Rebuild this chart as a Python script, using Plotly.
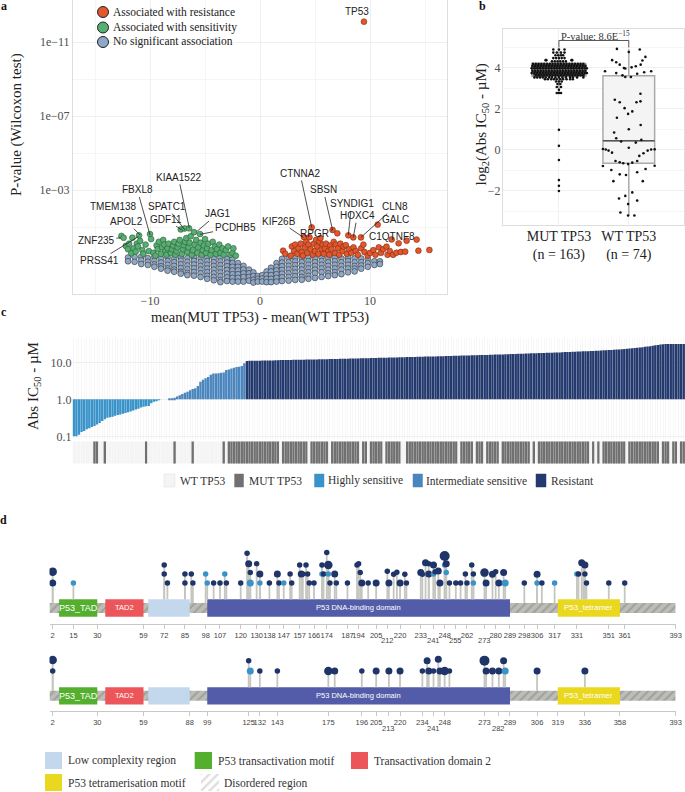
import plotly.graph_objects as go

W, H = 685, 792
SERIF = "Liberation Serif"
SANS = "Liberation Sans"
TICK = "#4d4d4d"

# ---------- panel a data ----------
green_x = [-12.6,-12.4,-12.2,-12.0,-11.9,-11.7,-11.6,-11.5,-11.3,-11.2,-11.1,-11.0,-10.9,-10.7,-10.6,-10.4,-10.1,-10.0,-9.9,-9.7,-9.5,-9.4,-9.3,-9.2,-9.0,-8.9,-8.8,-8.7,-8.6,-8.5,-8.4,-8.3,-8.1,-8.0,-7.9,-7.8,-7.7,-7.6,-7.5,-7.4,-7.3,-7.2,-7.1,-7.0,-6.9,-6.85,-6.8,-6.7,-6.6,-6.5,-6.45,-6.4,-6.3,-6.2,-6.1,-6.0,-5.95,-5.8,-5.7,-5.6,-5.45,-5.4,-5.3,-5.2,-5.1,-5.0,-4.9,-4.8,-4.7,-4.5,-4.4,-4.3,-4.1,-4.0,-3.9,-3.7,-3.6,-3.4,-3.3,-3.1,-2.9,-2.7,-2.5,-2.42,-2.2]
green_y = [.52,.42,-.02,-.2,.1,-.42,.42,-.15,-.33,.1,-.05,.55,.25,-.25,-.45,.05,-.3,.62,.35,-.4,-.55,.0,-.2,.2,-.45,-.1,.3,.05,-.3,-.5,-.15,.1,-.4,-.2,.0,.2,-.5,-.3,-.1,.1,.3,.87,-.45,-.2,.02,.92,.2,.4,-.35,-.1,.93,.15,.5,-.5,-.25,.72,.05,.3,-.4,-.1,.62,.15,-.5,-.25,.0,.35,-.4,-.15,.1,-.5,-.25,.2,-.05,-.45,-.2,.05,-.4,-.15,-.5,-.25,-.05,-.5,-.4,-.15,-.55]
orange_x = [9.45,2.1,2.3,2.8,2.9,3.1,3.2,3.4,3.5,3.7,3.8,3.9,4.0,4.1,4.2,4.3,4.4,4.5,4.6,4.7,4.8,4.9,5.0,5.1,5.2,5.3,5.4,5.5,5.6,5.7,5.8,5.9,6.0,6.2,6.3,6.4,6.5,6.6,6.7,6.8,6.9,7.03,7.1,7.2,7.3,7.5,7.6,7.8,7.9,8.03,8.1,8.3,8.48,8.5,8.7,8.9,9.18,9.2,9.4,9.5,9.8,10.0,10.3,10.5,10.7,10.8,11.0,11.2,11.5,11.6,11.8,11.97,12.1,12.4,12.6,12.8,13.2,13.33,14.24,14.4,15.4]
orange_y = [12.1,-.28,-.45,-.55,-.05,-.3,.05,-.45,-.15,.1,-.35,-.55,.45,-.1,.2,-.4,.05,.45,-.2,.98,-.5,.1,-.3,.3,-.05,-.45,.2,.4,-.2,.05,-.45,-.15,.1,-.3,-.5,.0,-.2,.84,.2,-.4,.05,.66,-.15,-.5,.1,-.3,-.05,.02,-.45,.55,-.2,-.4,.44,-.1,-.3,-.5,.44,-.15,.05,-.35,-.55,-.4,-.25,-.5,1.13,-.1,-.4,-.2,-.06,-.5,-.3,.33,-.5,-.39,.12,-.35,-.33,.26,.32,-.28,-.24]
blue_columns = [
 (-12.0,[-.65,-.85]),(-11.4,[-.62,-.88]),(-10.8,[-.6,-.8,-1.0]),(-10.2,[-.68,-.88,-1.05]),
 (-9.6,[-.62,-.82,-1.02,-1.15]),(-9.0,[-.7,-.92,-1.12,-1.25]),(-8.4,[-.64,-.84,-1.04,-1.24,-1.36]),
 (-7.8,[-.7,-.9,-1.1,-1.3,-1.42]),(-7.2,[-.62,-.82,-1.02,-1.22,-1.42,-1.52]),(-6.6,[-.68,-.88,-1.08,-1.28,-1.48,-1.6]),
 (-6.0,[-.63,-.83,-1.03,-1.23,-1.43,-1.63]),(-5.4,[-.7,-.9,-1.1,-1.3,-1.5,-1.7]),(-4.8,[-.64,-.84,-1.04,-1.24,-1.44,-1.64,-1.8]),
 (-4.2,[-.7,-.9,-1.1,-1.3,-1.5,-1.7,-1.88]),(-3.6,[-.66,-.86,-1.06,-1.26,-1.46,-1.66,-1.86,-1.98]),(-3.0,[-.72,-.92,-1.12,-1.32,-1.52,-1.72,-1.92]),
 (-2.5,[-.72,-.95,-1.15,-1.35,-1.55,-1.75,-1.95]),(-2.0,[-.95,-1.15,-1.35,-1.55,-1.75,-1.95]),(-1.5,[-1.1,-1.3,-1.5,-1.7,-1.95]),
 (-1.0,[-1.3,-1.5,-1.7,-1.9]),(-.6,[-1.45,-1.65,-1.85,-2.0]),(-.2,[-1.65,-1.8,-1.95]),(.2,[-1.6,-1.78,-1.95]),
 (.6,[-1.4,-1.6,-1.8,-1.98]),(1.0,[-1.2,-1.4,-1.6,-1.8,-1.98]),(1.5,[-.95,-1.15,-1.35,-1.55,-1.75,-1.95]),
 (2.0,[-.72,-.92,-1.12,-1.32,-1.52,-1.72,-1.92]),(2.6,[-.7,-.9,-1.1,-1.3,-1.5,-1.7,-1.9]),(3.2,[-.66,-.86,-1.06,-1.26,-1.46,-1.66,-1.86]),
 (3.8,[-.7,-.9,-1.1,-1.3,-1.5,-1.7,-1.85]),(4.4,[-.64,-.84,-1.04,-1.24,-1.44,-1.64,-1.8]),(5.0,[-.7,-.9,-1.1,-1.3,-1.5,-1.75]),
 (5.6,[-.64,-.84,-1.04,-1.24,-1.44,-1.7]),(6.2,[-.7,-.9,-1.1,-1.3,-1.5,-1.65]),(6.8,[-.64,-.84,-1.04,-1.24,-1.44,-1.6]),
 (7.4,[-.7,-.9,-1.1,-1.3,-1.55]),(8.0,[-.64,-.84,-1.04,-1.24,-1.45]),(8.6,[-.7,-.9,-1.1,-1.25,-1.4]),
 (9.2,[-.7,-.9,-1.08,-1.25]),(9.8,[-.75,-.95,-1.15]),(10.4,[-.85,-1.05]),(10.9,[-.85,-1.0]),
]
gene_labels = [
 ("KIAA1522",-6.42,.93,-11,-51,True),("FBXL8",-10,.57,-12.7,-45,True),("TMEM138",-11,.55,-26,-29.3,False),
 ("SPATC1",-6.82,.84,-18.3,-23.3,True),("GDF11",-7.12,.84,-16,-10.7,True),("JAG1",-5.76,.75,20.7,-17.7,True),
 ("PCDHB5",-5.45,.6,35,-7.3,True),("APOL2",-10.9,.57,-13.3,-13.3,True),("ZNF235",-12.7,.42,-24,3,True),
 ("PRSS41",-11.06,.48,-39.3,24,True),("KIF26B",3.94,.44,-24,-16.3,True),("CTNNA2",4.7,.98,-11.7,-54,True),
 ("RPGR",6.6,.84,-17.7,3.7,True),("SBSN",6.6,.84,-9.3,-40,True),("SYNDIG1",8.03,.57,3.3,-31,True),
 ("HOXC4",8.48,.44,4,-21.7,True),("CLN8",9.18,.44,34,-30.7,True),("GALC",10.7,1.13,17.3,-5,False),
 ("C1QTNF8",11.97,.33,0,-2.7,False),("TP53",9.45,12.1,-6.7,-9.7,False),
]
legend_a = [("Associated with resistance","#E2572B"),("Associated with sensitivity","#57AE71"),("No significant association","#8FA8C8")]

# ---------- panel b data ----------
wt_x = [.83,1,1.157,1.238,1.195,1.17,.762,.82,.87,.93,.95,1.04,1.1,.66,.82,.91,.95,1.03,1.12,1.22,1.32,1.167,.8,.87,1.167,1.11,.94,1.05,.99,.83,1.17,1,.79,.82,.89,1.18,1.1,1,.63,.67,.71,.76,1.37,1.32,1.27,1.21,1.15,.81,.87,.92,.99,1.05,1.12,.63,1.37,.75,1.24,.87,.96,1.12,.78,1.2,1.05,.95,.86,1.12,.99,.88,.99,1.08]
wt_y = [4.93,4.78,4.9,4.54,4.36,4.16,4.38,4.28,4.16,4.0,3.97,4.03,4.08,3.84,3.75,3.64,3.56,3.56,3.72,3.79,3.84,2.74,2.45,2.33,2.37,2.33,2.04,1.88,1.76,1.57,1.22,1.01,.85,.57,.41,.49,.36,.11,.05,.02,-.03,-.13,.03,.02,-.03,-.16,-.29,-.54,-.6,-.65,-.69,-.62,-.54,-.78,-.77,-.98,-.93,-1.19,-1.22,-1.09,-1.52,-1.52,-2.07,-2.24,-2.37,-2.47,-2.64,-3.05,-3.2,-3.2]
mut_rows = [
 (4.2,[-.37,-.33,-.29,-.25,-.21,-.17,-.13,-.09,-.05,-.01,.03,.07,.11,.15,.19,.23,.27,.31,.35]),
 (4.1,[-.38,-.34,-.3,-.26,-.22,-.18,-.14,-.1,-.06,-.02,.02,.06,.1,.14,.18,.22,.26,.3,.34,.38]),
 (3.98,[-.39,-.35,-.31,-.27,-.23,-.19,-.15,-.11,-.07,-.03,.01,.05,.09,.13,.17,.21,.25,.29,.33,.37,.4]),
 (3.86,[-.38,-.34,-.3,-.26,-.22,-.18,-.14,-.1,-.06,-.02,.02,.06,.1,.14,.18,.22,.26,.3,.34,.38]),
 (3.75,[-.39,-.35,-.31,-.27,-.23,-.19,-.15,-.11,-.07,-.03,.01,.05,.09,.13,.17,.21,.25,.29,.33,.37,.4]),
 (3.64,[-.33,-.29,-.25,-.21,-.17,-.13,-.09,-.05,-.01,.03,.07,.11,.15,.19,.23,.27,.31,.35]),
 (3.54,[-.35,-.31,-.27,-.23,-.19,-.14,-.1,-.05,.0,.05,.1,.16,.2,.26,.35]),
 (3.45,[-.2,-.16,-.11,-.07,-.03,.02,.06,.11,.16,.2]),
 (3.34,[-.04,.0,.04]),(3.22,[-.02,.02]),(3.07,[-.03,.03]),(2.94,[.0]),(2.78,[-.03,.0,.03]),
 (.98,[.0]),(.2,[.0]),(-.49,[.0]),(-1.47,[.0]),(-1.75,[.0]),(-2.0,[.0]),
 (4.32,[-.1,-.06,-.02,.02,.06,.1]),(4.38,[-.18,-.19,.18,.19]),(4.48,[-.08,-.04,.0,.04,.08]),
 (4.62,[-.05,-.01,.03,.06]),(4.75,[-.08,-.03,.03,.08]),(4.9,[-.08,.0,.08]),
]
box_mut = dict(q1=3.6, median=3.9, q3=4.22, lowerfence=2.78, upperfence=4.93)
box_wt = dict(q1=-.65, median=.45, q3=3.62, lowerfence=-3.2, upperfence=4.93)

# ---------- panel c data ----------
ic50_sensitive = [.10,.10,.11,.13,.14,.155,.165,.18,.19,.21,.23,.26,.29,.32,.33,.34,.36,.38,.39,.41,.43,.45,.47,.50,.53,.56,.60,.63,.65,.66,.78,.86,.92,.95]
ic50_intermediate = [1.0,1.0,1.0,1.02,1.03,1.1,1.2,1.3,1.4,1.5,1.6,1.75,1.9,2.0,2.3,3.0,3.4,3.7,4.0,4.6,5.0,5.0,5.05,5.2,5.3,6.2,6.4,6.8,7.2,7.5,7.6,8.0,9.5]
ic50_resistant = [10.9,11.0,11.0,11.1,11.1,11.1,11.2,11.2,11.3,11.3,11.3,11.4,11.4,11.5,11.5,11.5,11.6,11.6,11.7,11.7,11.7,11.8,11.8,11.9,11.9,11.9,12.0,12.0,12.1,12.1,
 12.2,12.2,12.3,12.3,12.4,12.4,12.5,12.5,12.6,12.6,12.7,12.7,12.8,12.8,12.9,12.9,13.0,13.0,13.1,13.1,13.2,13.3,13.3,13.4,13.4,13.5,13.5,13.6,13.6,13.7,
 13.8,13.8,13.9,13.9,14.0,14.0,14.1,14.2,14.2,14.3,14.3,14.4,14.5,14.5,14.6,14.7,14.7,14.8,14.9,14.9,15.0,15.1,15.1,15.2,15.3,15.3,15.4,15.5,15.6,15.6,
 15.7,15.8,15.9,15.9,16.0,16.1,16.2,16.3,16.4,16.4,16.5,16.6,16.7,16.8,16.9,17.0,17.1,17.2,17.3,17.4,17.5,17.6,17.7,17.8,17.9,18.0,18.1,18.2,18.3,18.4,
 18.5,18.6,18.7,18.9,19.0,19.1,19.2,19.4,19.5,19.6,19.8,19.9,20.0,20.2,20.4,20.5,20.7,20.9,21.1,21.3,21.5,21.7,21.9,22.2,22.4,22.7,23.0,23.3,23.6,24.0,
 24.4,24.8,25.2,25.7,26.2,26.8,27.3,28.0,28.8,29.6,30.5,31.0,31.2,31.3,31.4,31.5,31.5,31.5,31.5,31.5]
mut_runs = [(8,10),(12,13),(28,29),(39,40),(46,47),(58,59),(60,80),(81,91),(92,99),(100,111),(112,114),(115,120),(121,127),(129,149),(150,155),(156,159),(160,165),(166,177),(178,179),(180,200),(201,202),(203,204),(205,214),(215,227),(228,231),(232,234),(235,237)]
c_colors = {"sens":"#3A93C8","inter":"#4A85BD","res":"#243A6E","mut":"#707070","wt":"#F4F4F4"}
legend_c = [("WT TP53","wt",164,175,179.6),("MUT TP53","mut",234.6,243.5,248.6),("Highly sensitive","sens",314.5,324,327.6),
            ("Intermediate sensitive","inter",413,422.5,426.4),("Resistant","res",536,546,550.5)]

# ---------- panel d data ----------
DK, LB = "#1F3468", "#3A93C8"
S, M, L, XL = 5.5, 7, 8.5, 10
loll1 = [(2,1,M,DK),(2,2.26,L,DK),(15,1,S,LB),(72,3,S,DK),(72,2,S,DK),(74,1,S,DK),(85,2,S,DK),(85,1,S,DK),(89,2,S,DK),(90,1,S,DK),
 (98,2,S,LB),(99,1,S,LB),(103,1,S,DK),(107,1,S,DK),(110,2,S,LB),(111,1,S,DK),(120,1,S,DK),(124,4.3,S,DK),(125,3.15,M,DK),(126,2.15,S,DK),(126,1,M,LB),
 (130,3.15,S,DK),(132,2,M,DK),(132,1,S,LB),(138,1,S,DK),(143,2,M,DK),(144,1,S,DK),(147,1,S,LB),(151,2,S,DK),(152,1,S,DK),(157,3,S,DK),(158,2,M,DK),(159,2,S,DK),
 (161,3,S,DK),(162,2,S,DK),(163,1,S,DK),(166,1,S,DK),(171,3,S,DK),(171,2,S,LB),(172,2,S,DK),(174,4.4,S,DK),(175,3,L,DK),(175,2,S,LB),(176,1,S,DK),(179,2,M,DK),(180,1,S,DK),
 (187,1,S,DK),(193,3,S,DK),(194,3.15,S,DK),(195,2.15,S,DK),(196,1,M,DK),(200,1,S,DK),(205,1,M,DK),(212,2.3,S,DK),(213,1,M,DK),(216,1.96,S,DK),(218,2.2,S,DK),(220,1,M,DK),(223,1.96,S,DK),(224,1,S,DK),
 (233,2.15,M,DK),(234,1.96,S,DK),(236,3.26,M,DK),(238,3.15,S,DK),(238,2,M,DK),(241,3,M,DK),(241,2,S,LB),(242,2.26,S,DK),(244,2.33,M,DK),(245,1,M,DK),(248,3,S,LB),(248,4,XL,DK),(249,3.15,M,DK),(249,2.15,S,LB),(251,1,S,DK),
 (255,1,S,DK),(258,1,S,DK),(261,2,S,DK),(262,1,S,DK),(265,3,S,DK),(266,2,S,DK),(266,1,S,LB),(273,2.15,L,DK),(274,1,M,DK),(278,1.96,M,DK),(280,2.26,S,DK),(282,1,M,DK),(285,2.15,M,DK),(286,1,M,LB),
 (298,1,S,DK),(306,1.96,M,DK),(306,1,S,LB),(309,1,S,DK),(317,1,S,LB),(331,2,S,LB),(332,2,S,DK),(334,3.26,M,DK),(335,3.15,S,DK),(336,3,M,DK),(336,2,S,DK),(337,1,S,DK),(351,1,S,DK),(361,1,S,DK)]
loll2 = [(2,1,S,DK),(2,2.22,L,DK),(125,2.15,S,DK),(126,1,M,LB),(132,1,S,DK),(143,1,S,DK),(175,1,L,DK),(179,1,M,DK),(196,1,S,DK),(205,1,M,DK),(213,1,M,DK),(220,1,M,DK),
 (234,1,S,DK),(237,2.15,M,DK),(238,1,M,DK),(241,1,S,DK),(244,2.3,M,DK),(245,1,M,DK),(248,1,L,DK),(251,1,S,DK),(273,2.15,XL,DK),(274,1,M,DK),(278,1,M,DK),(282,1,M,DK),(285,2.15,M,DK),(286,1,M,LB),(306,1,M,DK),(336,1,M,DK)]
ticks1_row1 = [2,15,30,59,72,85,98,107,120,130,138,147,157,166,174,187,194,205,220,233,248,262,280,289,298,306,317,331,351,361,393]
ticks1_row2 = [212,241,255,273]
ticks2_row1 = [2,30,59,88,99,125,132,143,175,196,205,220,234,248,273,289,306,319,336,358,393]
ticks2_row2 = [213,241,282]
domains = [("P53_TAD",6,30,"#54AF2E",9),("TAD2",35,59,"#EC565A",7.5),(None,62,88,"#C3D8EC",8),("P53 DNA-binding domain",99,289,"#525CA8",7.5),("P53_tetramer",319,358,"#EAD81E",8)]
legend_d = [("Low complexity region","#C3D8EC",45,62,752,769,68),("P53 transactivation motif","#54AF2E",194.7,212,752,769,218),
            ("Transactivation domain 2","#EC565A",351,368,752,769,374),("P53 tetramerisation motif","#EAD81E",45,62,774,791,68)]

def xd(a, b): return [a / W, b / W]
def yd(t, b): return [1 - b / H, 1 - t / H]
def px(x): return x / W
def py(y): return 1 - y / H

fig = go.Figure()
ann, shp = [], []
# panel a
for cx, ys in blue_columns:
    fig.add_trace(go.Scatter(x=[cx] * len(ys), y=ys, mode="markers", xaxis="x", yaxis="y",
                             marker=dict(size=5.8, color="#8FA8C8", line=dict(color="#333", width=.6))))
fig.add_trace(go.Scatter(x=green_x, y=green_y, mode="markers", xaxis="x", yaxis="y",
                         marker=dict(size=5.8, color="#57AE71", line=dict(color="#2b5a3a", width=.6))))
fig.add_trace(go.Scatter(x=orange_x, y=orange_y, mode="markers", xaxis="x", yaxis="y",
                         marker=dict(size=5.8, color="#E2572B", line=dict(color="#7a2c14", width=.6))))
# panel b
def box(xpos, stats, width, fill):
    fig.add_trace(go.Box(x=[xpos], width=width, q1=[stats["q1"]], median=[stats["median"]], q3=[stats["q3"]],
                         lowerfence=[stats["lowerfence"]], upperfence=[stats["upperfence"]], xaxis="x2", yaxis="y2",
                         boxpoints=False, whiskerwidth=0, fillcolor=fill, line=dict(color="#AAAAAA", width=1.5)))
box(0, box_mut, .77, "#4A4A4A")
box(1, box_wt, .74, "#F4F4F4")
fig.add_trace(go.Scatter(x=[.63, 1.37], y=[box_wt["median"]] * 2, mode="lines", xaxis="x2", yaxis="y2", line=dict(color="#555", width=1.5)))
mx = [o for y, os in mut_rows for o in os]
my = [y for y, os in mut_rows for o in os]
fig.add_trace(go.Scatter(x=mx, y=my, mode="markers", xaxis="x2", yaxis="y2", marker=dict(size=2.6, color="#111")))
fig.add_trace(go.Scatter(x=wt_x, y=wt_y, mode="markers", xaxis="x2", yaxis="y2", marker=dict(size=2.6, color="#111")))
fig.add_trace(go.Scatter(x=[0, 0, 1, 1], y=[5.0, 5.34, 5.34, 5.0], mode="lines", xaxis="x2", yaxis="y2", line=dict(color="#555", width=1)))
# panel c
ic50 = ic50_sensitive + ic50_intermediate + ic50_resistant
status = ["sens"] * len(ic50_sensitive) + ["inter"] * len(ic50_intermediate) + ["res"] * len(ic50_resistant)
idx = list(range(len(ic50)))
is_mut = [any(a <= i < b for a, b in mut_runs) for i in idx]
fig.add_trace(go.Bar(x=idx, y=[v - 1 for v in ic50], base=1, width=.92, xaxis="x3", yaxis="y3",
                     marker=dict(color=[c_colors[s] for s in status], line=dict(width=0))))
fig.add_trace(go.Bar(x=idx, y=[1] * len(idx), width=.92, xaxis="x4", yaxis="y4",
                     marker=dict(color=[c_colors["mut"] if m else c_colors["wt"] for m in is_mut], line=dict(width=0))))
# panel d
def track(axx, axy, loll, center):
    fig.add_trace(go.Bar(y=[center], x=[393], base=[0], orientation="h", width=1.11, xaxis=axx, yaxis=axy,
                         marker=dict(color="#BDBDB7", line=dict(width=0), pattern=dict(shape="/", fgcolor="#85857F", bgcolor="#BDBDB7", size=6, solidity=.35))))
    for name, a, b, col, fs in domains:
        fig.add_trace(go.Bar(y=[center], x=[b - a], base=[a], orientation="h", width=1.93, xaxis=axx, yaxis=axy,
                             marker=dict(color=col, line=dict(width=0))))
        if name:
            ann.append(dict(xref=axx, yref=axy, x=(a + b) / 2, y=center, text=name, showarrow=False,
                            font=dict(family=SANS, size=fs, color="white")))
    top_col = center + 1.93 / 2
    top_grey = center + 1.11 / 2
    sx, sy = [], []
    for pos, h, _, _ in loll:
        inside = any(d[1] <= pos <= d[2] for d in domains)
        sx += [pos, pos, None]
        sy += [top_col if inside else top_grey, h, None]
    fig.add_trace(go.Scatter(x=sx, y=sy, mode="lines", xaxis=axx, yaxis=axy, line=dict(color="#C6C6C0", width=1.8)))
    fig.add_trace(go.Scatter(x=[l[0] for l in loll], y=[l[1] for l in loll], mode="markers", xaxis=axx, yaxis=axy,
                             marker=dict(size=[l[2] for l in loll], color=[l[3] for l in loll], opacity=1, line=dict(width=0))))
track("x5", "y5", loll1, -1.78)
track("x6", "y6", loll2, -1.76)
# hatch swatch
fig.add_trace(go.Bar(x=[0], y=[1], width=1, xaxis="x7", yaxis="y7",
                     marker=dict(color="white", line=dict(width=0), pattern=dict(shape="/", fgcolor="#BBBBBB", bgcolor="white", size=6, solidity=.4))))

def text(x, y, t, size=12, fam=SERIF, col="#222", anchor="left", **k):
    ann.append(dict(xref="paper", yref="paper", x=px(x), y=py(y), text=t, showarrow=False, xanchor=anchor, yanchor="middle",
                    font=dict(family=fam, size=size, color=col), **k))
for letter, x, y in [("a", 4, 6), ("b", 482, 6), ("c", 4, 312), ("d", 4, 520)]:
    text(x, y, "<b>%s</b>" % letter, size=12, col="#111", anchor="center")
for name, gx, gy, dx, dy, line in gene_labels:
    ann.append(dict(xref="x", yref="y", x=gx, y=gy, ax=dx, ay=dy, text=name, showarrow=True, arrowhead=0, arrowwidth=.8,
                    arrowcolor="#222" if line else "rgba(0,0,0,0)", standoff=0, font=dict(family=SANS, size=10, color="#222")))
for (t, c), y in zip(legend_a, [12, 27.5, 42]):
    shp.append(dict(type="circle", xref="paper", yref="paper", x0=px(97.5), x1=px(108.5), y0=py(y + 5.5), y1=py(y - 5.5),
                    fillcolor=c, line=dict(color="#222", width=1)))
    text(110.5, y, t, size=11.5)
text(595, 36, "P-value: 8.6E<sup>−15</sup>", size=10.5, col="#333", anchor="center")
text(260, 317, "mean(MUT TP53) - mean(WT TP53)", size=14.5, anchor="center")
text(16, 125, "P-value (Wilcoxon test)", size=15, anchor="center", textangle=-90)
text(481.5, 125, "log<sub>2</sub>(Abs IC<sub>50</sub> - µM)", size=15, anchor="center", textangle=-90)
text(34, 386, "Abs IC<sub>50</sub> - µM", size=15, anchor="center", textangle=-90)
for t, k, a, b, tx in legend_c:
    shp.append(dict(type="rect", xref="paper", yref="paper", x0=px(a), x1=px(b), y0=py(487), y1=py(474),
                    fillcolor=c_colors[k], line=dict(color="#DDDDDD" if k == "wt" else c_colors[k], width=.5)))
    text(tx - 2, 480.5, t, size=11.5, col="#333")
for vals, axis_x, y in [(ticks1_row2, "x5", 640.5), (ticks2_row2, "x6", 728)]:
    for v in vals:
        ann.append(dict(xref=axis_x, yref="paper", x=v, y=py(y), text=str(v), showarrow=False, yanchor="middle",
                        font=dict(family=SANS, size=7.5, color="#444")))
for t, c, a, b, y0, y1, tx in legend_d:
    shp.append(dict(type="rect", xref="paper", yref="paper", x0=px(a), x1=px(b), y0=py(y1), y1=py(y0), fillcolor=c, line=dict(width=0)))
    text(tx - 2, (y0 + y1) / 2, t, size=11.5, col="#333")
text(222, 783, "Disordered region", size=11.5, col="#333")

grid = "#EFEFEF"
grid2 = "#F5F5F5"
serif_tick = dict(family=SERIF, size=12, color=TICK)
hidden = dict(showgrid=False, zeroline=False, showticklabels=False, showline=False, ticks="", automargin=False)
def tracks_x(dom, anchor, row1, row2):
    return dict(domain=dom, anchor=anchor, range=[0, 393], showgrid=False, zeroline=False, showline=True, linecolor="#C8C8C8", linewidth=1,
                tickmode="array", tickvals=row1, ticktext=[str(v) for v in row1], tickangle=0, ticks="outside", ticklen=4, tickcolor="#C8C8C8",
                minor=dict(tickvals=row2, ticks="outside", ticklen=4, tickcolor="#C8C8C8", showgrid=False),
                tickfont=dict(family=SANS, size=7.5, color="#444"), automargin=False)

fig.update_layout(
    width=W, height=H, autosize=False, margin=dict(l=0, r=0, t=0, b=0, pad=0, autoexpand=False), showlegend=False,
    plot_bgcolor="white", paper_bgcolor="white", barmode="overlay", annotations=ann, shapes=shp,
    xaxis=dict(domain=xd(73, 447), anchor="y", range=[-17, 17], tickvals=[-10, 0, 10], tickfont=serif_tick, zeroline=False, automargin=False,
               gridcolor=grid, showline=True, mirror=True, linecolor="#DDDDDD", ticks="", ticklabelstandoff=-4,
               minor=dict(tickvals=[-15, -5, 5, 15], showgrid=True, gridcolor=grid2, ticks="")),
    yaxis=dict(domain=yd(0, 294), anchor="x", range=[-2.62, 13.27], tickvals=[3, 7, 11], ticktext=["1e−03", "1e−07", "1e−11"], tickfont=serif_tick,
               zeroline=False, automargin=False, gridcolor=grid, showline=True, mirror=True, linecolor="#DDDDDD", ticks="",
               minor=dict(tickvals=[1, 5, 9], showgrid=True, gridcolor=grid2, ticks="")),
    xaxis2=dict(domain=xd(503, 684), anchor="y2", range=[-.8, 1.79], tickvals=[0, 1], ticktext=["MUT TP53<br>(n = 163)", "WT TP53<br>(n = 74)"], automargin=False,
                tickfont=dict(family=SERIF, size=14, color="#222"), zeroline=False, gridcolor=grid, showline=True, mirror=True, linecolor="#DDDDDD", ticks="", ticklabelstandoff=-2),
    yaxis2=dict(domain=yd(29, 225), anchor="x2", range=[-3.66, 5.9], tickvals=[-2, 0, 2, 4], tickfont=serif_tick, zeroline=False, gridcolor=grid, automargin=False,
                showline=True, mirror=True, linecolor="#DDDDDD", ticks="", ticklabelstandoff=-1,
                minor=dict(tickvals=[-3, -1, 1, 3, 5], showgrid=True, gridcolor=grid2, ticks="")),
    xaxis3=dict(domain=xd(72.5, 685), anchor="y3", range=[-.5, 236.5], tickvals=idx, showticklabels=False, ticks="", gridcolor="#F7F7F7", gridwidth=.5, zeroline=False, automargin=False),
    yaxis3=dict(domain=yd(338.3, 439.3), anchor="x3", type="log", range=[-1.08, 1.65], tickvals=[.1, 1, 10], ticktext=["0.1", "1.0", "10.0"],
                tickfont=serif_tick, gridcolor=grid, zeroline=False, ticks="", automargin=False),
    xaxis4=dict(domain=xd(72.5, 685), anchor="y4", range=[-.5, 236.5], **hidden),
    yaxis4=dict(domain=yd(441.3, 463.7), anchor="x4", range=[0, 1], **hidden),
    xaxis5=tracks_x(xd(49.5, 675.7), "y5", ticks1_row1, ticks1_row2),
    yaxis5=dict(domain=yd(545, 624), anchor="x5", range=[-3.56, 5.22], **hidden),
    xaxis6=tracks_x(xd(49.5, 675.7), "y6", ticks2_row1, ticks2_row2),
    yaxis6=dict(domain=yd(645, 711.3), anchor="x6", range=[-3.48, 3.89], **hidden),
    xaxis7=dict(domain=xd(201, 219), anchor="y7", range=[-.5, .5], **hidden),
    yaxis7=dict(domain=yd(774, 791), anchor="x7", range=[0, 1], **hidden),
)
fig.write_html("out.html", config={"displayModeBar": False}, post_script="document.body.style.margin='0';")
